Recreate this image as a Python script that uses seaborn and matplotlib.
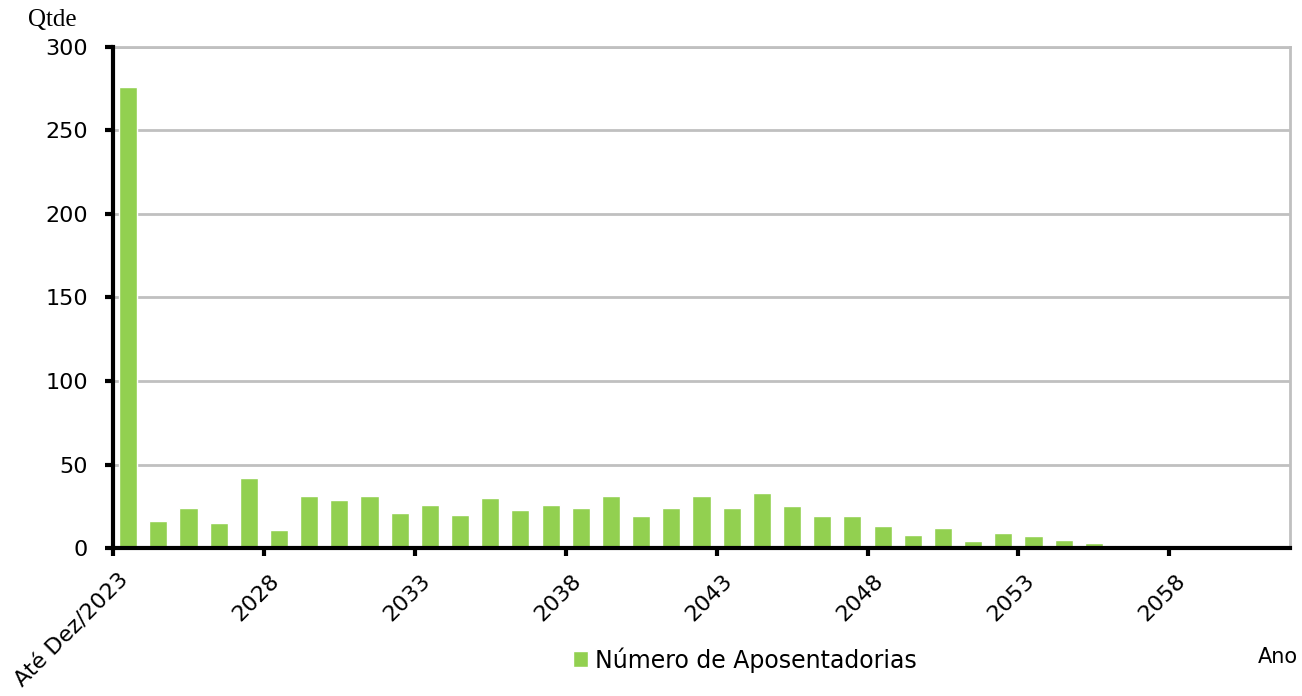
import matplotlib
matplotlib.use("Agg")
import matplotlib.pyplot as plt
import seaborn as sns
import pandas as pd

# categories: "Até Dez/2023" then one bar per year
anos = ["Até Dez/2023"] + [str(a) for a in range(2024, 2062)]
aposentadorias = [276, 16, 24, 15, 42, 11, 31, 29, 31, 21,
                  26, 20, 30, 23, 26, 24, 31, 19, 24, 31,
                  24, 33, 25, 19, 19, 13, 8, 12, 4, 9,
                  7, 5, 3, 2, 0, 0, 0, 0, 0]
y_ticks = [0, 50, 100, 150, 200, 250, 300]
serie = "Número de Aposentadorias"

df = pd.DataFrame({"Ano": anos, "Qtde": aposentadorias})

sns.set_style("white")
plt.rcParams["font.family"] = ["DejaVu Sans"]
plt.rcParams["text.color"] = "black"
plt.rcParams["xtick.color"] = "black"
plt.rcParams["ytick.color"] = "black"

fig = plt.figure(figsize=(13.02, 6.96), dpi=100)
ax = fig.add_axes([0.0868, 0.2126, 0.904, 0.72])

sns.barplot(data=df, x="Ano", y="Qtde", order=anos, color="#92D050",
            saturation=1, width=0.6, label=serie, ax=ax, zorder=3)

ax.set_ylim(0, 300)
ax.set_xlim(-0.5, len(anos) - 0.5)
ax.set_yticks(y_ticks)
ax.yaxis.grid(True, color="#c0c0c0", linewidth=2, zorder=0)

# tick marks sit between categories, labels every 5 years
idx = list(range(0, len(anos), 5))
ax.set_xticks([i + 0.15 for i in idx])
ax.set_xticklabels([anos[i] for i in idx], rotation=45, ha="right", fontsize=16)
ax.set_xticks([i - 0.5 for i in idx], minor=True)

ax.tick_params(axis="y", labelsize=16, length=6, width=3, direction="out", pad=12, left=True)
ax.tick_params(axis="x", which="major", length=0, pad=16, bottom=True)
ax.tick_params(axis="x", which="minor", length=6, width=3, direction="out", bottom=True)
ax.set_xlabel("")
ax.set_ylabel("")

for s in ["left", "bottom"]:
    ax.spines[s].set_color("black")
    ax.spines[s].set_linewidth(3)
    ax.spines[s].set_zorder(5)
for s in ["top", "right"]:
    ax.spines[s].set_color("#c0c0c0")
    ax.spines[s].set_linewidth(2)

fig.text(0.0215, 0.971, "Qtde", family="Liberation Serif", fontsize=18, va="center")
fig.text(0.9815, 0.056, "Ano", fontsize=15, ha="center", va="center")

ax.legend(loc="center", bbox_to_anchor=(0.572, 0.052), bbox_transform=fig.transFigure,
          frameon=False, fontsize=17, handlelength=0.65, handleheight=0.65,
          handletextpad=0.3)

fig.savefig("out.png", dpi=100)
